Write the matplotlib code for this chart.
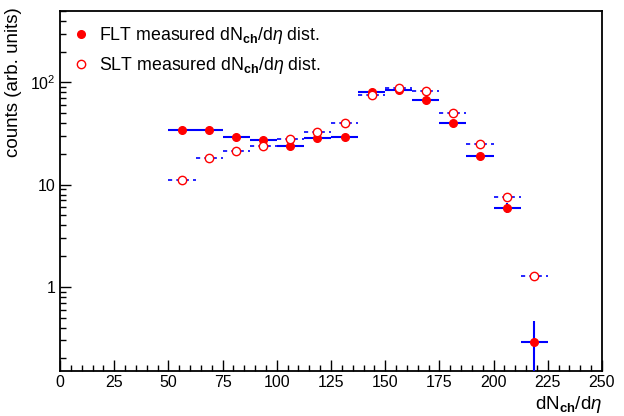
import numpy as np
import matplotlib
matplotlib.use("Agg")
import matplotlib.pyplot as plt
from matplotlib.lines import Line2D
from matplotlib.ticker import MultipleLocator, LogLocator, FixedLocator, FixedFormatter, NullFormatter

plt.rcParams["font.family"] = ["Liberation Sans", "DejaVu Sans"]
plt.rcParams["mathtext.fontset"] = "custom"
plt.rcParams["mathtext.rm"] = "Liberation Sans"
plt.rcParams["mathtext.it"] = "Liberation Sans:italic"
plt.rcParams["mathtext.bf"] = "Liberation Sans:bold"

# bin centres (dN_ch/deta), bin width 12.5
bin_centres = [56.25, 68.75, 81.25, 93.75, 106.25, 118.75, 131.25,
               143.75, 156.25, 168.75, 181.25, 193.75, 206.25, 218.75]
bin_half = 6.25

flt_counts = [34.0, 34.0, 29.5, 27.6, 24.1, 28.6, 29.3,
              81.0, 85.0, 68.0, 40.0, 19.1, 5.94, 0.29]
flt_err = [1.0, 1.0, 0.9, 0.9, 0.8, 0.9, 0.9,
           1.8, 1.8, 1.6, 1.3, 0.9, 0.7, 0.17]

slt_counts = [11.1, 18.1, 21.4, 23.9, 28.2, 32.5, 40.1,
              75.0, 88.8, 82.2, 50.6, 25.0, 7.5, 1.27]
slt_err = [0.5, 0.6, 0.7, 0.7, 0.8, 0.9, 1.0,
           1.4, 1.5, 1.4, 1.1, 0.8, 0.4, 0.14]

fig = plt.figure(figsize=(6.24, 4.16), dpi=100)
ax = fig.add_axes([0.0962, 0.108, 0.8685, 0.8656])

fe = ax.errorbar(bin_centres, flt_counts, xerr=bin_half, yerr=flt_err, fmt="o",
                 color="red", ms=5.5, ecolor="blue", elinewidth=1.5, capsize=0, zorder=3)
se = ax.errorbar(bin_centres, slt_counts, xerr=bin_half, yerr=slt_err, fmt="o",
                 color="red", mfc="white", mec="red", mew=1.0, ms=6, ecolor="blue",
                 elinewidth=1.2, capsize=0, zorder=3)
for lc in se[2]:
    lc.set_linestyle((0, (2.5, 2.5)))

ax.set_yscale("log")
ax.set_xlim(0, 250)
ax.set_ylim(0.15, 500)

ax.xaxis.set_major_locator(MultipleLocator(25))
ax.xaxis.set_minor_locator(MultipleLocator(5))
ax.yaxis.set_major_locator(FixedLocator([1, 10, 100]))
ax.yaxis.set_major_formatter(FixedFormatter(["1", "10", r"$10^2$"]))
ax.yaxis.set_minor_locator(LogLocator(base=10, subs=np.arange(2, 10)))
ax.yaxis.set_minor_formatter(NullFormatter())

ax.tick_params(which="both", direction="in", top=False, right=False, labelsize=11.5)
ax.tick_params(which="major", length=8, width=1)
ax.tick_params(which="minor", length=4, width=1)
ax.tick_params(axis="x", pad=3)
for s in ax.spines.values():
    s.set_linewidth(1.3)

ax.set_ylabel("counts (arb. units)", fontsize=13.5, loc="top")
ax.yaxis.set_label_coords(-0.07, 1.01)
ax.set_xlabel(r"dN$_{\mathbf{ch}}$/d$\eta$", fontsize=13.5, loc="right")
ax.xaxis.set_label_coords(1.0, -0.065)

handles = [
    Line2D([], [], ls="none", marker="o", color="red", ms=5.5),
    Line2D([], [], ls="none", marker="o", mfc="white", mec="red", ms=6),
]
ax.legend(handles, [r"FLT measured dN$_{\mathbf{ch}}$/d$\eta$ dist.",
                    r"SLT measured dN$_{\mathbf{ch}}$/d$\eta$ dist."],
          loc="upper left", frameon=False, fontsize=12.8, handlelength=0.8,
          handletextpad=0.6, labelspacing=0.5, borderaxespad=0.4,
          bbox_to_anchor=(0.0, 1.0))

fig.savefig("out.png", dpi=100)
